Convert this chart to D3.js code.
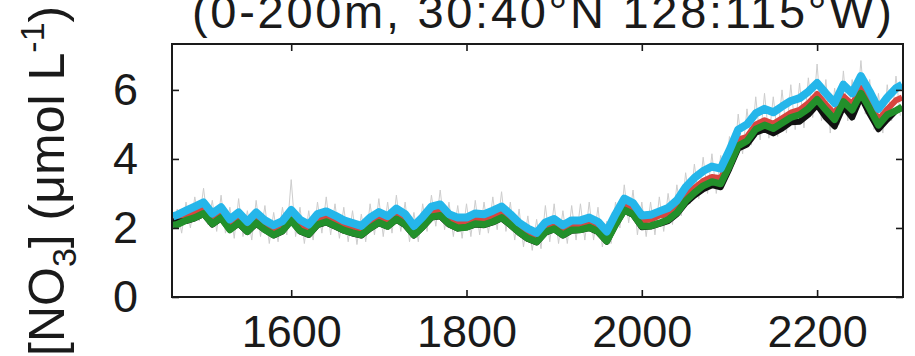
<!DOCTYPE html>
<html>
<head>
<meta charset="utf-8">
<script src="https://cdn.jsdelivr.net/npm/d3@7"></script>
<style>
  html, body { margin: 0; padding: 0; background: #fff; }
  svg { display: block; font-family: "Liberation Sans", Arial, sans-serif; }
</style>
</head>
<body>
<div id="chart"></div>
<script>
// sample years of the thick model lines
const years = [
  1465, 1470, 1480, 1490, 1500, 1510, 1520, 1530, 1540, 1550,
  1560, 1570, 1580, 1590, 1600, 1610, 1620, 1630, 1640, 1650,
  1660, 1670, 1680, 1690, 1700, 1710, 1720, 1730, 1740, 1750,
  1760, 1770, 1780, 1790, 1800, 1810, 1820, 1830, 1840, 1850,
  1860, 1870, 1880, 1890, 1900, 1910, 1920, 1930, 1940, 1950,
  1960, 1970, 1980, 1990, 2000, 2010, 2020, 2030, 2040, 2050,
  2060, 2070, 2080, 2090, 2100, 2110, 2120, 2130, 2140, 2150,
  2160, 2170, 2180, 2190, 2200, 2210, 2220, 2230, 2240, 2250,
  2260, 2270, 2280, 2290, 2297
]

const cyanValues = [
  2.33, 2.38, 2.50, 2.62, 2.74, 2.42, 2.60, 2.25, 2.45, 2.18,
  2.45, 2.22, 2.08, 2.20, 2.52, 2.24, 2.10, 2.40, 2.48, 2.36,
  2.22, 2.14, 2.06, 2.30, 2.46, 2.34, 2.56, 2.40, 2.06, 2.32,
  2.62, 2.68, 2.40, 2.30, 2.30, 2.42, 2.40, 2.50, 2.62, 2.40,
  2.15, 1.98, 1.86, 2.16, 2.26, 2.08, 2.22, 2.22, 2.30, 2.18,
  1.90, 2.40, 2.85, 2.72, 2.36, 2.38, 2.48, 2.58, 2.80, 3.18,
  3.45, 3.65, 3.78, 3.72, 4.25, 4.85, 5.00, 5.32, 5.45, 5.35,
  5.52, 5.68, 5.76, 5.95, 6.20, 5.90, 5.62, 6.15, 5.90, 6.40,
  5.95, 5.45, 5.78, 6.05, 6.15
]

const greenValues = [
  2.08, 2.10, 2.22, 2.30, 2.42, 2.12, 2.30, 1.95, 2.15, 1.90,
  2.15, 1.95, 1.80, 1.92, 2.22, 1.92, 1.82, 2.10, 2.18, 2.06,
  1.94, 1.86, 1.80, 2.00, 2.16, 2.05, 2.26, 2.10, 1.80, 2.04,
  2.32, 2.36, 2.12, 2.00, 2.02, 2.12, 2.10, 2.18, 2.30, 2.10,
  1.88, 1.70, 1.60, 1.88, 1.98, 1.80, 1.94, 1.95, 2.02, 1.90,
  1.62, 2.10, 2.52, 2.40, 2.05, 2.06, 2.14, 2.24, 2.44, 2.78,
  3.02, 3.22, 3.34, 3.28, 3.80, 4.38, 4.52, 4.86, 4.98, 4.88,
  5.04, 5.20, 5.28, 5.46, 5.72, 5.42, 5.14, 5.66, 5.42, 5.90,
  5.46, 4.98, 5.28, 5.40, 5.50
]

const blackValues = [
  2.20, 2.18, 2.20, 2.28, 2.40, 2.10, 2.28, 1.95, 2.12, 1.88,
  2.12, 1.94, 1.78, 1.90, 2.22, 1.90, 1.80, 2.08, 2.16, 2.04,
  1.92, 1.84, 1.78, 1.98, 2.14, 2.04, 2.24, 2.08, 1.78, 2.02,
  2.30, 2.34, 2.10, 1.98, 2.02, 2.10, 2.08, 2.16, 2.28, 2.08,
  1.86, 1.68, 1.58, 1.86, 1.96, 1.78, 1.92, 1.94, 2.00, 1.88,
  1.60, 2.08, 2.50, 2.38, 2.02, 2.04, 2.12, 2.20, 2.40, 2.72,
  2.94, 3.12, 3.24, 3.18, 3.72, 4.30, 4.42, 4.76, 4.86, 4.74,
  4.88, 5.06, 5.08, 5.28, 5.56, 5.20, 4.94, 5.52, 5.20, 5.80,
  5.30, 4.86, 5.14, 5.40, 5.48
]

const redValues = [
  2.26, 2.22, 2.34, 2.44, 2.56, 2.26, 2.50, 2.08, 2.28, 2.02,
  2.30, 2.08, 1.92, 2.06, 2.50, 2.06, 1.96, 2.24, 2.32, 2.20,
  2.08, 2.00, 1.92, 2.14, 2.30, 2.18, 2.40, 2.24, 1.92, 2.18,
  2.46, 2.50, 2.26, 2.14, 2.16, 2.26, 2.24, 2.32, 2.44, 2.24,
  2.00, 1.84, 1.74, 2.02, 2.12, 1.94, 2.08, 2.10, 2.16, 2.04,
  1.76, 2.24, 2.66, 2.56, 2.22, 2.24, 2.36, 2.40, 2.62, 2.96,
  3.16, 3.36, 3.48, 3.44, 3.96, 4.56, 4.64, 5.00, 5.12, 5.02,
  5.18, 5.34, 5.42, 5.62, 5.88, 5.58, 5.30, 5.82, 5.58, 6.06,
  5.62, 5.14, 5.44, 5.70, 5.78
]

// thin grey line, sampled every 5 years
const grayYears = [
  1465, 1470, 1475, 1480, 1485, 1490, 1495, 1500, 1505, 1510,
  1515, 1520, 1525, 1530, 1535, 1540, 1545, 1550, 1555, 1560,
  1565, 1570, 1575, 1580, 1585, 1590, 1595, 1600, 1605, 1610,
  1615, 1620, 1625, 1630, 1635, 1640, 1645, 1650, 1655, 1660,
  1665, 1670, 1675, 1680, 1685, 1690, 1695, 1700, 1705, 1710,
  1715, 1720, 1725, 1730, 1735, 1740, 1745, 1750, 1755, 1760,
  1765, 1770, 1775, 1780, 1785, 1790, 1795, 1800, 1805, 1810,
  1815, 1820, 1825, 1830, 1835, 1840, 1845, 1850, 1855, 1860,
  1865, 1870, 1875, 1880, 1885, 1890, 1895, 1900, 1905, 1910,
  1915, 1920, 1925, 1930, 1935, 1940, 1945, 1950, 1955, 1960,
  1965, 1970, 1975, 1980, 1985, 1990, 1995, 2000, 2005, 2010,
  2015, 2020, 2025, 2030, 2035, 2040, 2045, 2050, 2055, 2060,
  2065, 2070, 2075, 2080, 2085, 2090, 2095, 2100, 2105, 2110,
  2115, 2120, 2125, 2130, 2135, 2140, 2145, 2150, 2155, 2160,
  2165, 2170, 2175, 2180, 2185, 2190, 2195, 2200, 2205, 2210,
  2215, 2220, 2225, 2230, 2235, 2240, 2245, 2250, 2255, 2260,
  2265, 2270, 2275, 2280, 2285, 2290, 2295
]

const grayValues = [
  1.95, 2.55, 1.85, 2.75, 2.00, 2.90, 2.20, 3.15, 2.10, 2.80,
  1.90, 2.95, 1.85, 2.60, 1.70, 2.85, 1.75, 2.50, 1.65, 2.80,
  1.75, 2.65, 1.55, 2.45, 1.60, 2.60, 1.80, 3.40, 1.75, 2.60,
  1.55, 2.50, 1.65, 2.75, 1.85, 2.90, 1.80, 2.70, 1.70, 2.60,
  1.60, 2.50, 1.52, 2.40, 1.60, 2.70, 1.80, 2.85, 1.75, 2.75,
  1.85, 2.95, 1.90, 2.75, 1.60, 2.45, 1.60, 2.70, 1.90, 2.95,
  2.05, 3.10, 1.95, 2.75, 1.75, 2.65, 1.70, 2.70, 1.75, 2.80,
  1.80, 2.75, 1.85, 2.90, 1.95, 3.05, 1.90, 2.75, 1.65, 2.55,
  1.45, 2.35, 1.35, 2.25, 1.40, 2.65, 1.60, 2.70, 1.55, 2.50,
  1.55, 2.65, 1.65, 2.70, 1.65, 2.75, 1.65, 2.60, 1.45, 2.20,
  1.55, 2.75, 2.00, 3.25, 2.15, 3.10, 1.80, 2.75, 1.75, 2.75,
  1.80, 2.90, 1.90, 3.00, 2.10, 3.25, 2.35, 3.60, 2.70, 3.85,
  2.85, 4.05, 3.00, 4.15, 3.00, 4.10, 3.35, 4.65, 3.85, 5.30,
  4.15, 5.45, 4.40, 5.80, 4.55, 5.90, 4.60, 5.80, 4.65, 6.00,
  4.75, 6.15, 4.85, 6.20, 4.90, 6.35, 5.20, 6.75, 5.10, 6.30,
  4.75, 6.05, 5.00, 6.55, 5.10, 6.30, 5.30, 6.85, 5.30, 6.30,
  4.85, 5.90, 4.75, 6.15, 5.10, 6.40, 5.25
]

const xTicks = [1600, 1800, 2000, 2200]
const yTicks = [0, 2, 4, 6]

const width = 915,
    height = 356,
    margin = { top: 44, right: 12, bottom: 59, left: 172 }

const innerW = width - margin.left - margin.right,
    innerH = height - margin.top - margin.bottom

const svg = d3.select("#chart").append("svg")
  .attr("width", width)
  .attr("height", height)

const x = d3.scaleLinear()
  .domain([1464, 2298])
  .range([0, innerW])

const y = d3.scaleLinear()
  .domain([0, 7.33])
  .range([innerH, 0])

const g = svg.append("g")
  .attr("transform", "translate(" + margin.left + "," + margin.top + ")")

g.append("clipPath")
  .attr("id", "clip")
  .append("rect")
    .attr("width", innerW)
    .attr("height", innerH)

/* ------- LINES -------*/

const series = [
  { name: "gray", xs: grayYears, ys: grayValues, color: "#cdcdcd", w: 1 },
  { name: "red", xs: years, ys: redValues, color: "#d9453f", w: 6 },
  { name: "black", xs: years, ys: blackValues, color: "#111111", w: 6 },
  { name: "green", xs: years, ys: greenValues, color: "#23902b", w: 7 },
  { name: "cyan", xs: years, ys: cyanValues, color: "#25b6ea", w: 8 }
]

const line = d3.line()
  .x(d => x(d[0]))
  .y(d => y(d[1]))

g.append("g")
  .attr("class", "lines")
  .attr("clip-path", "url(#clip)")
  .selectAll("path")
  .data(series)
  .join("path")
    .attr("fill", "none")
    .attr("stroke", d => d.color)
    .attr("stroke-width", d => d.w)
    .attr("stroke-linejoin", "round")
    .attr("d", d => line(d.xs.map((yr, i) => [yr, d.ys[i]])))

/* ------- AXES (box, inward ticks on all sides) -------*/

const tickLen = 7
const axisColor = "#1a1a1a"

g.append("g")
  .attr("transform", "translate(0," + innerH + ")")
  .call(d3.axisBottom(x).tickValues(xTicks).tickSize(-tickLen).tickPadding(18).tickFormat(d3.format("d")))
g.append("g")
  .call(d3.axisTop(x).tickValues(xTicks).tickSize(-tickLen).tickFormat(""))
g.append("g")
  .call(d3.axisLeft(y).tickValues(yTicks).tickSize(-tickLen).tickPadding(34))
g.append("g")
  .attr("transform", "translate(" + innerW + ",0)")
  .call(d3.axisRight(y).tickValues(yTicks).tickSize(-tickLen).tickFormat(""))

g.selectAll(".domain").remove()
g.selectAll(".tick line").attr("stroke", axisColor).attr("stroke-width", 1.6)
g.selectAll(".tick text")
  .attr("fill", "#1a1a1a")
  .style("font-size", "45px")
  .style("font-family", "'Liberation Sans', Arial, sans-serif")

g.append("rect")
  .attr("width", innerW)
  .attr("height", innerH)
  .attr("fill", "none")
  .attr("stroke", axisColor)
  .attr("stroke-width", 2)

/* ------- TITLE & Y LABEL -------*/

svg.append("text")
  .attr("x", 542)
  .attr("y", 28)
  .attr("text-anchor", "middle")
  .attr("fill", "#1a1a1a")
  .attr("textLength", 700)
  .attr("lengthAdjust", "spacing")
  .style("font-size", "47px")
  .text("(0-200m, 30:40°N 128:115°W)")

const ylab = svg.append("text")
  .attr("transform", "translate(64,356) rotate(-90)")
  .attr("fill", "#1a1a1a")
  .style("font-size", "50px")

ylab.append("tspan").text("[NO")
ylab.append("tspan").attr("dy", 12).style("font-size", "34px").text("3")
ylab.append("tspan").attr("dy", -12).text("] (μmol L")
ylab.append("tspan").attr("dy", -20).style("font-size", "34px").text("-1")
ylab.append("tspan").attr("dy", 20).text(")")
</script>
</body>
</html>
